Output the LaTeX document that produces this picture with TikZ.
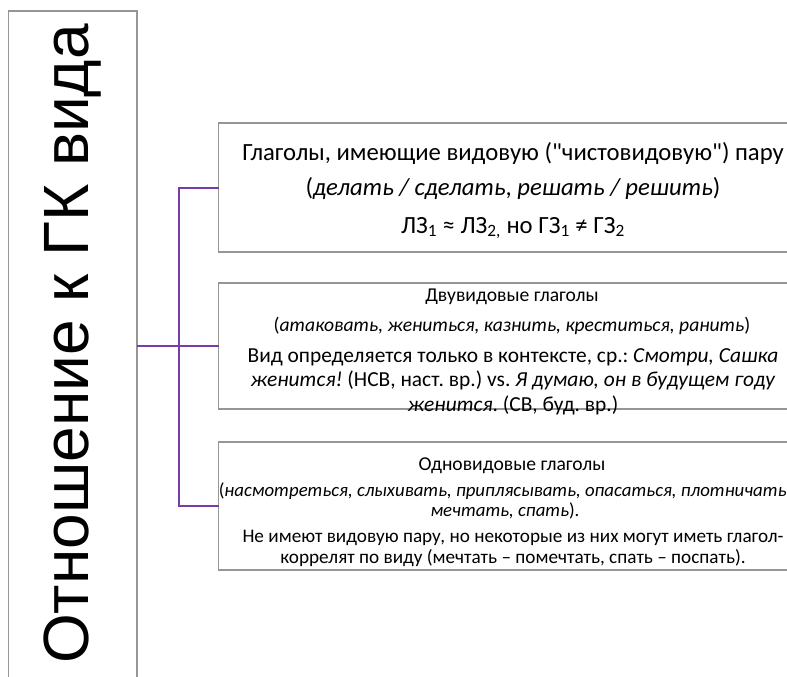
\documentclass[tikz,border=0pt]{standalone}
\usepackage{fontspec}
\setmainfont{Carlito}[Ligatures=TeXOff]
\newfontfamily\rootfont{Liberation Sans}
\definecolor{framegray}{RGB}{150,150,150}
\definecolor{linkpurple}{RGB}{118,60,170}
\frenchspacing
\begin{document}
\begin{tikzpicture}[x=1pt,y=-1pt,
  frame/.style={draw=framegray, line width=1.3pt, inner sep=0pt, outer sep=0pt},
  link/.style={draw=linkpurple, line width=2pt},
  bigtext/.style={font=\fontsize{24.7}{30}\selectfont, inner sep=0pt, align=center},
  smalltext/.style={font=\fontsize{19.6}{21}\selectfont, inner sep=0pt, align=center}]
\useasboundingbox (0,0) rectangle (787,677);

% root box, open at the bottom edge
\node[frame, anchor=north west, minimum width=128.5pt, minimum height=700pt] (root) at (8.5,11) {};
\node[rotate=90, inner sep=0pt, font=\rootfont\fontsize{64}{70}\selectfont] (rootlabel) at (73,344) {Отношение к ГК вида};

% three category boxes, running past the right edge
\node[frame, anchor=west, minimum width=590pt, minimum height=129pt] (b1) at (218.5,187.5) {};
\node[frame, anchor=west, minimum width=590pt, minimum height=126pt] (b2) at (218.5,346) {};
\node[frame, anchor=west, minimum width=590pt, minimum height=128pt] (b3) at (218.5,506) {};

% box 1
\node[bigtext] (t1a) at (513,153) {Глаголы, имеющие видовую ("чистовидовую") пару};
\node[bigtext] (t1b) at (513,188) {(\textit{делать / сделать}, \textit{решать / решить})};
\node[bigtext] (t1c) at (513,228) {ЛЗ\textsubscript{1} ≈ ЛЗ\textsubscript{2,} но ГЗ\textsubscript{1} ≠ ГЗ\textsubscript{2}};

% box 2
\node[smalltext] (t2a) at (512,297) {Двувидовые глаголы};
\node[smalltext] (t2b) at (512,326) {(\textit{атаковать, жениться, казнить, креститься, ранить})};
\node[smalltext, font=\fontsize{21.4}{24.5}\selectfont] (t2c) at (513,381.5) {Вид определяется только в контексте, ср.: \textit{Смотри, Сашка}\\
\textit{женится!} (НСВ, наст. вр.) vs. \textit{Я думаю, он в будущем году}\\
\textit{женится}. (СВ, буд. вр.)};

% box 3
\node[smalltext] (t3a) at (512,466) {Одновидовые глаголы};
\node[smalltext, font=\fontsize{18.8}{20}\selectfont] (t3b) at (505,501) {(\textit{насмотреться, слыхивать, приплясывать, опасаться, плотничать,}\\
\textit{мечтать, спать}).};
\node[smalltext, font=\fontsize{19.2}{21}\selectfont] (t3c) at (513,548) {Не имеют видовую пару, но некоторые из них могут иметь глагол-\\
коррелят по виду (мечтать – помечтать, спать – поспать).};

% connectors
\coordinate (hub) at (179,346);
\draw[link] (root.east |- b2.west) -- (b2.west);
\draw[link] (hub) |- (b1.west);
\draw[link] (hub) |- (b3.west);
\end{tikzpicture}
\end{document}
